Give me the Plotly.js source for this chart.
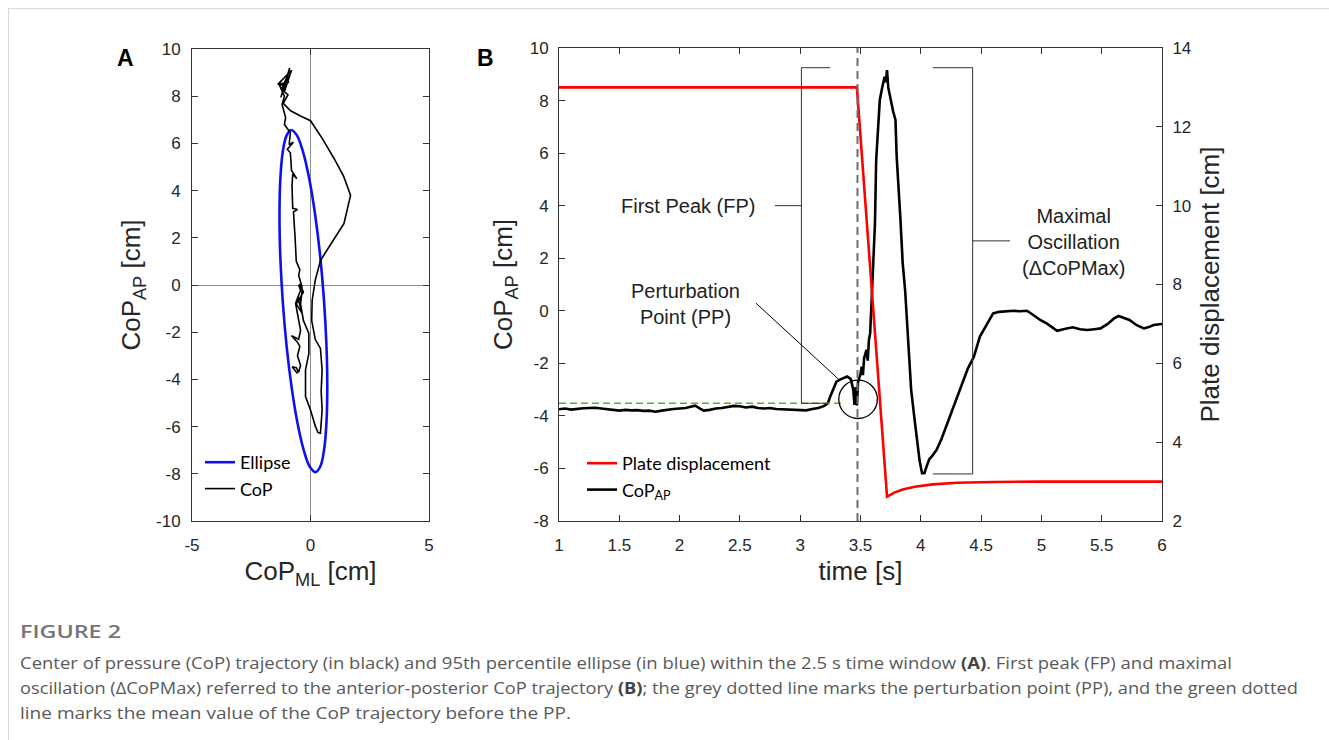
<!DOCTYPE html>
<html>
<head>
<meta charset="utf-8">
<script src="https://cdn.plot.ly/plotly-3.0.1.min.js"></script>
<style>
html,body{margin:0;padding:0;background:#fff;overflow:hidden;width:1329px;height:740px;}
#plot{position:absolute;left:0;top:0;width:1329px;height:740px;}
#frame{position:absolute;left:8px;top:8px;width:1321px;height:732px;border-left:1px solid #d8d8d8;border-top:1px solid #d8d8d8;pointer-events:none;}
.cap{position:absolute;left:20px;white-space:nowrap;font-family:"Open Sans","Noto Sans",sans-serif;color:#595959;font-size:16.5px;line-height:25px;transform-origin:0 50%;}
.cap b{font-weight:700;color:#444;}
#fig{font-weight:600;color:#757575;font-size:18px;}
</style>
</head>
<body>
<div id="plot"></div>
<div id="frame"></div>
<div class="cap" id="fig" style="top:619px" data-w="101">FIGURE 2</div>
<div class="cap" style="top:650px" data-w="1212">Center of pressure (CoP) trajectory (in black) and 95th percentile ellipse (in blue) within the 2.5 s time window <b>(A)</b>. First peak (FP) and maximal</div>
<div class="cap" style="top:675px" data-w="1278">oscillation (ΔCoPMax) referred to the anterior-posterior CoP trajectory <b>(B)</b>; the grey dotted line marks the perturbation point (PP), and the green dotted</div>
<div class="cap" style="top:700px" data-w="551">line marks the mean value of the CoP trajectory before the PP.</div>
<script>
// ---------- Panel A data: 95th percentile ellipse ----------
const ellipseML = [-0.815,-0.572,-0.312,-0.051,0.193,0.405,0.567,0.671,0.709,0.677,0.58,0.422,0.215,-0.028,-0.288,-0.549,-0.793,-1.005,-1.167,-1.271,-1.309,-1.277,-1.18,-1.02,-0.815];
const ellipseAP = [6.57,6.34,5.63,4.49,3.00,1.26,-0.618,-2.50,-4.25,-5.76,-6.93,-7.67,-7.93,-7.70,-6.99,-5.85,-4.36,-2.62,-0.742,1.14,2.89,4.40,5.57,6.31,6.57];

// ---------- Panel A data: CoP trajectory ----------
const copML = [-0.55,-0.65,-0.77,-0.6,-0.5,-0.42,-0.55,-0.45,-0.56,-0.8,-0.5,-0.42,-0.63,-0.42,-0.5,-0.35,-0.5,-0.45,-0.6,-0.65,-0.72,-0.55,-0.75,-0.78,-0.75,-0.58,-0.8,-0.85,-0.98,-0.72,-0.9,-0.85,-1.1,-1.05,-1.2,-1.1,-1.3,-0.9,-1.38,-0.8,-1.1,-0.88,-1.25,-1.0,-1.22,-0.95,-1.15,-0.84,-0.4,0.0,0.5,1.0,1.4,1.69,1.55,1.41,0.9,0.42,0.2,0.07,0.05,0.2,0.42,0.49,0.45,0.49,0.42,0.32,0.21,0.0,-0.21,-0.21,-0.07,-0.07,-0.3,-0.42,-0.35,-0.45,-0.3,-0.6,-0.35,-0.55,-0.4];
const copAP = [-3.75,-3.6,-3.47,-3.5,-3.7,-3.4,-3.0,-2.6,-2.41,-2.15,-2.3,-1.92,-0.78,-0.22,0.0,-0.1,0.4,0.65,1.0,2.0,3.1,3.2,3.25,4.2,4.7,4.5,4.85,5.6,5.75,6.05,5.95,6.45,6.8,7.1,7.65,8.0,8.45,8.6,8.5,9.1,8.2,9.2,7.95,8.8,8.3,8.05,7.7,7.38,7.15,6.96,6.2,5.35,4.6,3.8,3.2,2.6,1.8,1.04,0.2,-0.65,-1.5,-2.3,-2.69,-3.6,-4.5,-5.3,-6.28,-6.25,-6.0,-5.3,-4.73,-3.6,-2.9,-2.05,-1.5,-0.8,-0.2,0.05,-0.3,-0.8,-1.2,-0.5,-0.7];

// ---------- Panel B data: plate displacement (right axis) ----------
const plateTime = [1.0,3.47,3.72,3.78,3.85,3.95,4.1,4.3,4.6,5.0,6.0];
const plateDisp = [13.0,13.0,2.62,2.72,2.80,2.87,2.93,2.97,2.99,3.0,3.0];

// ---------- Panel B data: CoP_AP (left axis) ----------
const apTime = [1.00,1.05,1.10,1.15,1.20,1.25,1.30,1.35,1.40,1.45,1.50,1.55,1.60,1.65,1.70,1.75,1.80,1.85,1.90,1.95,2.00,2.05,2.10,2.13,2.17,2.20,2.25,2.30,2.35,2.40,2.45,2.50,2.55,2.60,2.65,2.70,2.75,2.80,2.85,2.90,2.95,3.00,3.05,3.10,3.15,3.20,3.23,3.25,3.27,3.30,3.33,3.36,3.39,3.42,3.44,3.45,3.46,3.47,3.48,3.50,3.51,3.52,3.53,3.55,3.56,3.57,3.58,3.59,3.60,3.61,3.62,3.63,3.65,3.66,3.68,3.69,3.70,3.71,3.72,3.73,3.74,3.75,3.76,3.77,3.79,3.80,3.83,3.85,3.87,3.90,3.92,3.95,3.97,3.99,4.01,4.03,4.05,4.07,4.09,4.13,4.17,4.21,4.27,4.33,4.39,4.44,4.49,4.55,4.60,4.65,4.70,4.77,4.82,4.88,4.93,4.99,5.05,5.13,5.20,5.26,5.32,5.38,5.44,5.49,5.55,5.60,5.64,5.69,5.73,5.79,5.85,5.89,5.93,6.00];
const apCoP = [-3.75,-3.72,-3.76,-3.73,-3.71,-3.70,-3.69,-3.72,-3.75,-3.78,-3.80,-3.77,-3.79,-3.78,-3.81,-3.80,-3.84,-3.80,-3.76,-3.74,-3.72,-3.70,-3.64,-3.61,-3.72,-3.80,-3.77,-3.72,-3.70,-3.66,-3.62,-3.63,-3.68,-3.65,-3.70,-3.72,-3.70,-3.74,-3.75,-3.76,-3.78,-3.80,-3.79,-3.74,-3.70,-3.62,-3.52,-3.25,-3.00,-2.70,-2.62,-2.55,-2.50,-2.60,-3.00,-3.58,-2.90,-3.60,-2.70,-2.40,-2.13,-2.45,-1.80,-1.49,-1.90,-1.10,-0.86,0.16,1.40,2.69,3.33,5.74,7.20,8.02,8.50,8.66,8.90,8.70,9.16,8.50,8.28,8.00,7.90,7.60,7.26,5.86,3.58,1.80,0.79,-1.40,-3.01,-4.20,-4.92,-5.70,-6.18,-6.18,-5.90,-5.65,-5.55,-5.30,-4.90,-4.41,-3.60,-2.89,-2.20,-1.75,-0.98,-0.50,-0.10,-0.04,-0.03,0.00,-0.02,0.00,-0.15,-0.35,-0.50,-0.76,-0.68,-0.63,-0.70,-0.73,-0.70,-0.67,-0.50,-0.30,-0.20,-0.28,-0.35,-0.55,-0.67,-0.62,-0.54,-0.50];

// ---------- tick values and labels ----------
const aXTicks = [-5, 0, 5];
const aXLabels = ['-5', '0', '5'];
const aYTicks = [-10, -8, -6, -4, -2, 0, 2, 4, 6, 8, 10];
const aYLabels = ['-10', '-8', '-6', '-4', '-2', '0', '2', '4', '6', '8', '10'];
const bXTicks = [1, 1.5, 2, 2.5, 3, 3.5, 4, 4.5, 5, 5.5, 6];
const bXLabels = ['1', '1.5', '2', '2.5', '3', '3.5', '4', '4.5', '5', '5.5', '6'];
const bYTicks = [-8, -6, -4, -2, 0, 2, 4, 6, 8, 10];
const bYLabels = ['-8', '-6', '-4', '-2', '0', '2', '4', '6', '8', '10'];
const bY2Ticks = [2, 4, 6, 8, 10, 12, 14];
const bY2Labels = ['2', '4', '6', '8', '10', '12', '14'];

// ---------- Reference marks / annotation anchors (data coordinates) ----------
const ppTime = 3.475;          // perturbation point (grey dashed line)
const preMean = -3.52;         // mean CoP before PP (green dashed line)
const fpTop = 9.25, mxBottom = -6.21;

// ---------- layout helpers ----------
const W = 1329, H = 740;
const px = v => v / W, py = v => 1 - v / H;
const axisFont = {family:'Liberation Sans, Arial, sans-serif', size:17, color:'#262626'};
const titleFont = {family:'Liberation Sans, Arial, sans-serif', size:26, color:'#262626'};
const lineC = '#333333';
const common = {ticks:'inside', ticklen:6, tickcolor:lineC, tickwidth:1, showline:true, linecolor:lineC, linewidth:1, showgrid:false, tickfont:axisFont, tickmode:'array'};

const traces = [
  {x:ellipseML, y:ellipseAP, xaxis:'x', yaxis:'y', mode:'lines', line:{color:'#1010ee', width:2.6, shape:'spline', smoothing:1}, name:'Ellipse', legend:'legend', hoverinfo:'skip'},
  {x:copML, y:copAP, xaxis:'x', yaxis:'y', mode:'lines', line:{color:'#000', width:1.6}, name:'CoP', legend:'legend'},
  {x:plateTime, y:plateDisp, xaxis:'x2', yaxis:'y3', mode:'lines', line:{color:'#ff0000', width:2.6}, name:'Plate displacement', legend:'legend2'},
  {x:apTime, y:apCoP, xaxis:'x2', yaxis:'y2', mode:'lines', line:{color:'#000', width:2.6}, name:'CoP<sub>AP</sub>', legend:'legend2'}
];

const shapes = [
  {type:'line', xref:'x2', yref:'y2', x0:ppTime, x1:ppTime, y0:-8, y1:10, line:{color:'#6e6e6e', width:2, dash:'8px,5px'}},
  {type:'line', xref:'x2', yref:'y2', x0:1, x1:3.37, y0:preMean, y1:preMean, line:{color:'#62a83a', width:1.6, dash:'7px,4px'}},
  {type:'path', xref:'x2', yref:'y2', path:`M 3.25 ${fpTop} L 3.01 ${fpTop} L 3.01 ${preMean} L 3.23 ${preMean}`, line:{color:lineC, width:1}},
  {type:'line', xref:'x2', yref:'y2', x0:2.79, x1:3.01, y0:4.0, y1:4.0, line:{color:lineC, width:1}},
  {type:'path', xref:'x2', yref:'y2', path:`M 4.10 ${fpTop} L 4.43 ${fpTop} L 4.43 ${mxBottom} L 4.10 ${mxBottom}`, line:{color:lineC, width:1}},
  {type:'line', xref:'x2', yref:'y2', x0:4.43, x1:4.74, y0:2.66, y1:2.66, line:{color:lineC, width:1}},
  {type:'line', xref:'x2', yref:'y2', x0:2.634, x1:3.324, y0:0.286, y1:-2.63, line:{color:'#000', width:1}},
  {type:'circle', xref:'x2', yref:'y2', x0:3.32, x1:3.64, y0:-4.10, y1:-2.64, line:{color:'#000', width:1.3}}
];

const annFont = {family:'Liberation Sans, Arial, sans-serif', size:20, color:'#222'};
const panelFont = {family:'Liberation Sans, Arial, sans-serif', size:23, color:'#000'};
const annotations = [
  {xref:'paper', yref:'paper', x:px(125), y:py(58), xanchor:'center', yanchor:'middle', text:'<b>A</b>', showarrow:false, font:panelFont},
  {xref:'paper', yref:'paper', x:px(485), y:py(58), xanchor:'center', yanchor:'middle', text:'<b>B</b>', showarrow:false, font:panelFont},
  {xref:'x2', yref:'y2', x:2.07, y:4.0, text:'First Peak (FP)', showarrow:false, font:annFont},
  {xref:'x2', yref:'y2', x:2.05, y:0.26, text:'Perturbation<br>Point (PP)', showarrow:false, font:annFont},
  {xref:'x2', yref:'y2', x:5.262, y:2.62, text:'Maximal<br>Oscillation<br>(ΔCoPMax)', showarrow:false, font:annFont}
];

const legFont = {family:'Lato, "Open Sans", sans-serif', size:18, color:'#000'};
const layout = {
  width:W, height:H, margin:{l:0, r:0, t:0, b:0}, paper_bgcolor:'#fff', plot_bgcolor:'#fff',
  font:axisFont, showlegend:true,
  xaxis:Object.assign({}, common, {domain:[px(192), px(429)], anchor:'y', range:[-5,5], tickvals:aXTicks, ticktext:aXLabels, ticklabelstandoff:9, mirror:'ticks', zeroline:true, zerolinecolor:'#8c8c8c', zerolinewidth:1, title:{text:'CoP<sub>ML</sub> [cm]', font:titleFont, standoff:7}}),
  yaxis:Object.assign({}, common, {domain:[py(521), py(49)], anchor:'x', range:[-10,10], tickvals:aYTicks, ticktext:aYLabels, ticklabelstandoff:7, mirror:'ticks', zeroline:true, zerolinecolor:'#8c8c8c', zerolinewidth:1, title:{text:'CoP<sub>AP</sub> [cm]', font:titleFont, standoff:7}}),
  xaxis2:Object.assign({}, common, {domain:[px(559), px(1162)], anchor:'y2', range:[1,6], tickvals:bXTicks, ticktext:bXLabels, ticklabelstandoff:9, mirror:'ticks', zeroline:false, title:{text:'time [s]', font:titleFont, standoff:7}}),
  yaxis2:Object.assign({}, common, {domain:[py(521), py(48)], anchor:'x2', range:[-8,10], tickvals:bYTicks, ticktext:bYLabels, ticklabelstandoff:6, mirror:false, zeroline:false, title:{text:'CoP<sub>AP</sub> [cm]', font:titleFont, standoff:9}}),
  yaxis3:Object.assign({}, common, {overlaying:'y2', anchor:'x2', side:'right', range:[2,14], tickvals:bY2Ticks, ticktext:bY2Labels, ticklabelstandoff:6, zeroline:false, title:{text:'Plate displacement [cm]', font:titleFont, standoff:10}}),
  legend:{x:px(200), xanchor:'left', y:py(444), yanchor:'top', bgcolor:'rgba(0,0,0,0)', borderwidth:0, font:legFont, tracegroupgap:0, itemwidth:30},
  legend2:{x:px(582), xanchor:'left', y:py(445), yanchor:'top', bgcolor:'rgba(0,0,0,0)', borderwidth:0, font:legFont, tracegroupgap:0, itemwidth:30},
  shapes:shapes, annotations:annotations
};

Plotly.newPlot('plot', traces, layout, {staticPlot:true, displayModeBar:false});

// fit caption line widths to the reference (condensed face): scale horizontally
document.querySelectorAll('.cap').forEach(el => {
  const target = +el.dataset.w;
  const w = el.getBoundingClientRect().width;
  el.style.transform = 'scaleX(' + (target / w) + ')';
});
</script>
</body>
</html>
